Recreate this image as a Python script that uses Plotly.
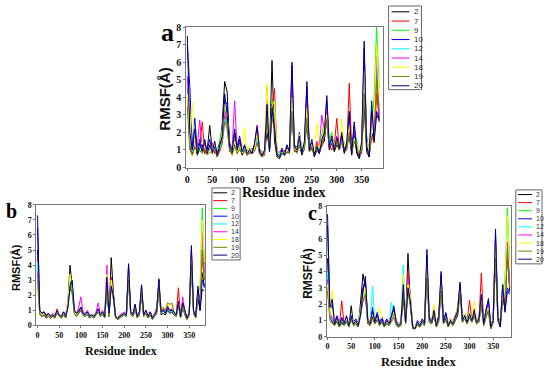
import plotly.graph_objects as go

W, H = 550, 373

residues = list(range(0, 390, 5))
series_names = ["2", "7", "9", "10", "12", "14", "18", "19", "20"]
series_colors = ["#000000", "#ff0000", "#00ff00", "#0000ff", "#00ffff",
                 "#ff00ff", "#ffff00", "#808000", "#000080"]
x_ticks = [0, 50, 100, 150, 200, 250, 300, 350]
y_ticks = [0, 1, 2, 3, 4, 5, 6, 7, 8]

# ---------------- panel a ----------------
A_2 = [4.5,1.2,0.8,1.5,0.7,1.1,1.3,0.8,1.0,2.4,0.9,1.2,0.6,1.0,2.5,4.9,4.3,1.0,0.8,1.3,0.9,1.2,0.7,1.0,0.9,0.8,1.1,1.0,1.6,0.8,0.6,0.9,2.0,1.0,6.1,1.5,0.6,0.5,0.8,0.7,1.0,0.8,3.0,1.0,0.9,1.3,0.7,1.2,2.5,0.9,1.2,0.6,1.0,0.8,1.3,1.5,2.8,1.0,1.4,0.9,1.3,1.0,1.6,0.8,1.2,1.8,0.7,1.9,0.8,0.5,1.0,3.5,0.9,0.6,2.0,1.6,5.8,2.6]
A_7 = [4.0,1.5,0.7,1.2,0.9,1.3,2.6,0.8,1.1,1.0,1.4,0.8,1.0,0.9,1.6,3.0,2.4,0.9,1.2,1.6,0.8,1.4,1.0,1.2,0.7,1.0,0.9,1.2,1.8,1.0,0.8,0.7,4.5,1.1,3.5,4.5,0.8,0.7,0.9,1.0,0.8,1.1,3.8,0.9,1.2,1.5,1.0,1.1,3.2,1.2,1.0,0.8,1.4,1.0,1.2,1.7,3.0,1.3,1.0,1.2,2.8,1.0,1.5,1.1,1.0,4.8,1.0,1.5,1.2,0.7,0.8,4.5,1.5,0.8,1.8,1.4,4.2,2.8]
A_9 = [3.8,1.3,1.0,1.8,1.2,0.9,1.0,1.3,0.8,1.2,1.0,1.1,0.9,1.6,2.2,3.5,2.6,1.3,1.0,1.8,1.2,1.0,1.1,0.9,1.0,1.1,0.8,1.0,1.9,1.0,0.9,0.8,3.0,1.2,3.8,2.8,1.0,0.8,1.1,0.9,1.2,1.0,3.5,1.3,1.0,1.6,1.2,1.0,3.0,1.1,1.4,0.9,1.1,1.3,1.9,2.6,2.5,1.5,2.0,1.2,1.5,1.3,1.8,1.4,1.2,2.5,1.1,2.0,1.6,0.8,1.2,4.8,1.8,0.9,2.4,4.0,8.0,4.5]
A_10 = [7.0,4.6,1.2,2.8,1.0,1.6,1.1,1.3,1.0,1.6,0.8,1.2,0.9,1.4,1.6,3.8,3.6,1.4,1.0,2.0,1.2,1.8,1.0,1.2,0.9,1.1,0.9,1.3,2.4,1.0,0.8,0.9,3.2,1.1,3.6,2.0,0.8,0.7,1.1,0.9,1.1,1.0,5.8,1.3,1.1,2.0,1.0,1.3,4.6,1.1,1.4,0.8,1.0,1.0,1.4,1.8,3.8,1.1,1.6,1.1,1.5,1.2,1.8,1.0,1.2,2.8,0.9,2.4,1.0,0.7,1.3,6.8,1.5,0.7,3.2,1.8,3.2,2.8]
A_12 = [5.0,1.6,0.9,1.4,1.1,1.3,1.0,1.2,0.9,1.1,1.0,1.3,0.8,1.1,1.4,2.8,2.2,1.1,0.9,1.5,1.0,1.3,0.9,1.1,0.8,1.0,1.0,1.2,1.6,0.9,0.8,0.8,3.4,1.0,3.0,2.4,0.9,0.7,1.0,0.8,1.0,0.9,4.5,1.1,1.0,1.4,0.9,1.1,3.6,1.0,1.3,0.9,1.2,1.1,1.5,2.2,3.2,1.3,1.5,1.1,1.6,1.2,1.5,1.1,1.3,2.2,1.0,1.7,1.3,0.7,1.0,5.0,1.4,0.8,2.2,2.0,6.0,3.5]
A_14 = [5.2,1.8,1.0,1.5,1.2,2.7,1.0,1.4,0.9,1.2,1.1,1.0,0.8,1.3,1.7,3.2,2.8,1.2,1.1,3.8,1.0,1.5,1.1,1.0,0.9,1.0,0.8,1.1,2.4,1.1,0.7,0.9,3.8,1.0,3.2,2.6,0.8,0.9,1.0,0.9,1.2,1.0,4.8,1.2,1.1,1.7,1.1,1.2,3.9,1.0,1.2,1.0,1.5,1.2,3.0,2.0,3.4,1.2,1.4,1.0,1.8,1.1,1.6,1.0,1.1,2.6,0.9,2.2,1.1,0.6,1.1,6.2,1.6,0.9,2.6,2.2,6.4,3.0]
A_18 = [4.2,1.4,3.7,1.3,1.0,1.2,1.5,1.1,0.8,1.3,0.9,1.4,1.0,1.2,2.0,3.6,3.0,1.1,1.0,1.5,0.9,1.2,1.0,2.3,0.8,1.2,0.9,1.0,2.0,0.9,0.8,1.0,4.8,1.0,3.5,3.8,0.9,0.8,0.9,1.1,0.9,1.2,4.0,1.0,1.1,1.9,1.0,1.2,3.4,1.1,1.3,0.9,2.5,1.1,1.6,2.4,3.0,1.4,1.7,1.3,1.6,1.1,2.8,1.2,1.3,2.4,1.0,1.6,1.4,0.8,1.1,5.5,1.5,1.0,2.0,3.0,7.0,4.0]
A_19 = [3.5,1.0,0.7,1.2,0.9,1.0,0.8,1.1,0.7,0.9,0.8,1.0,0.6,0.9,1.3,2.6,2.2,1.0,0.7,1.2,0.8,1.0,0.8,0.9,0.7,0.8,0.8,0.9,1.4,0.8,0.6,0.7,2.8,0.9,2.8,2.2,0.6,0.6,0.8,0.7,0.9,0.8,3.2,1.0,0.8,1.3,0.8,1.0,2.8,0.9,1.1,0.7,1.0,0.9,1.3,1.8,2.6,1.2,1.3,1.0,1.4,1.0,1.4,1.0,1.0,2.0,0.8,1.5,1.2,0.6,0.9,4.2,1.2,0.7,1.8,1.5,5.0,3.2]
A_20 = [7.5,2.0,1.0,2.2,0.8,1.4,0.9,1.6,0.8,1.3,0.9,1.5,0.7,1.2,1.8,4.2,3.0,1.2,0.9,2.2,1.0,1.6,0.9,1.3,0.8,1.0,0.8,1.4,2.3,0.9,0.7,1.0,3.6,0.9,3.4,2.2,0.7,0.6,1.0,0.7,1.3,0.9,6.0,1.2,1.0,1.8,0.8,1.5,4.9,1.0,1.6,0.7,1.2,0.8,1.6,2.0,4.1,1.2,1.8,1.0,1.7,1.1,2.0,0.9,1.4,3.2,0.8,2.6,0.9,0.6,1.5,7.2,1.2,0.6,3.8,1.5,3.0,2.7]

# ---------------- panel b ----------------
B_2 = [5.0,0.8,0.6,0.7,0.5,0.6,0.5,0.6,0.5,0.9,0.6,0.5,0.7,0.5,1.5,4.0,2.6,0.8,0.6,0.8,1.0,0.7,0.6,0.7,0.5,0.6,0.5,0.7,0.9,0.6,0.8,0.5,2.5,0.6,4.5,2.2,0.5,0.4,0.5,0.6,0.7,0.6,3.2,0.7,0.6,1.1,0.5,0.7,2.0,0.6,0.8,0.5,0.7,0.4,0.6,0.8,2.4,0.7,0.8,0.7,1.0,0.8,0.9,0.7,0.6,1.4,0.5,1.2,0.7,0.4,0.7,4.0,0.8,0.5,1.8,1.0,3.5,2.6]
B_7 = [4.5,0.9,0.7,0.8,0.6,0.7,0.6,0.7,0.6,1.1,0.7,0.6,0.8,0.6,1.3,2.8,2.4,0.9,0.7,0.9,1.1,0.8,0.7,0.8,0.6,0.7,0.6,0.8,1.0,0.7,0.8,0.6,2.8,0.7,3.2,2.0,0.6,0.5,0.6,0.6,0.8,0.7,3.5,0.8,0.7,1.2,0.6,0.8,2.2,0.7,0.9,0.6,0.8,0.5,0.7,0.9,2.6,0.8,1.0,0.8,1.2,0.9,1.0,0.8,0.7,2.5,0.6,1.3,0.8,0.5,0.8,4.2,0.9,0.6,2.0,1.2,4.5,3.0]
B_9 = [4.0,0.8,0.7,0.9,0.7,0.8,0.6,0.7,0.6,0.9,0.7,0.6,0.8,0.6,1.4,3.0,2.2,0.8,0.7,1.0,1.2,0.8,0.7,0.8,0.6,0.7,0.7,0.8,1.0,0.7,0.8,0.6,2.6,0.7,3.0,1.8,0.6,0.5,0.6,0.7,0.8,0.7,3.4,0.8,0.7,1.2,0.6,0.8,2.3,0.7,0.9,0.6,0.8,0.5,0.7,0.9,2.7,0.8,1.1,0.8,1.3,1.0,1.1,0.8,0.7,1.5,0.6,1.4,0.8,0.5,0.8,4.6,1.0,0.6,2.2,2.5,7.8,4.0]
B_10 = [6.5,1.0,0.8,0.9,0.6,0.8,0.6,0.7,0.6,1.0,0.7,0.6,0.9,0.6,1.3,2.8,2.8,0.9,0.8,1.0,1.2,0.8,0.7,0.9,0.6,0.7,0.6,0.8,1.1,0.7,0.9,0.6,3.0,0.8,2.8,2.0,0.6,0.5,0.6,0.7,0.8,0.7,4.0,0.9,0.7,1.4,0.6,0.9,2.6,0.7,1.0,0.6,0.9,0.5,0.7,1.0,3.0,0.9,1.0,0.8,1.2,1.0,1.0,0.9,0.7,1.6,0.6,1.5,0.9,0.5,0.8,5.0,1.0,0.6,2.4,1.2,3.0,2.5]
B_12 = [4.2,0.8,0.7,0.8,0.6,0.7,0.6,0.7,0.6,0.9,0.6,0.6,0.8,0.6,1.2,2.4,2.0,0.8,0.7,0.9,1.1,0.7,0.6,0.8,0.6,0.6,0.6,0.7,1.0,0.6,0.8,0.6,2.8,0.7,2.6,1.8,0.6,0.5,0.6,0.6,0.7,0.6,3.0,0.8,0.6,1.2,0.6,0.8,2.2,0.6,0.9,0.6,0.8,0.5,0.6,0.9,2.4,0.8,1.0,0.8,1.2,0.9,1.0,0.8,0.6,1.4,0.6,1.3,0.8,0.5,0.7,4.4,0.9,0.6,2.0,1.5,5.5,3.2]
B_14 = [3.5,1.0,0.8,0.9,0.7,0.8,0.6,0.8,0.7,1.0,0.7,0.6,0.9,0.7,1.6,2.4,2.2,1.0,0.8,1.2,1.9,0.9,0.8,1.0,0.7,0.7,0.6,0.9,1.5,0.7,1.0,0.6,4.0,0.8,2.8,2.0,0.6,0.5,0.7,0.8,0.9,0.8,3.6,0.9,0.8,1.3,0.7,0.9,2.4,0.7,1.0,0.6,0.9,0.6,0.8,1.2,2.8,0.9,1.1,0.9,1.3,1.0,1.1,0.9,0.7,1.5,0.7,1.9,0.9,0.5,0.9,5.0,1.0,0.7,2.2,1.8,6.2,3.5]
B_18 = [2.5,0.9,0.7,0.8,0.6,0.7,0.6,0.7,0.6,1.0,0.7,0.6,0.8,0.6,1.6,3.4,2.6,0.9,0.7,0.9,1.1,0.8,0.7,0.8,0.6,0.7,0.6,0.8,1.0,0.7,0.8,0.6,3.4,0.7,3.0,1.9,0.6,0.5,0.6,0.7,0.8,0.7,3.4,0.8,0.7,1.2,0.6,0.8,2.4,0.7,0.9,0.6,0.8,0.6,0.7,1.0,2.8,0.9,1.2,1.0,1.5,1.3,1.4,0.9,0.7,1.6,0.6,1.4,0.9,0.5,0.8,4.5,1.0,0.6,2.0,2.2,7.0,4.2]
B_19 = [3.0,0.7,0.6,0.7,0.5,0.6,0.5,0.6,0.5,0.8,0.6,0.5,0.7,0.5,1.2,2.6,2.2,0.8,0.6,0.8,1.0,0.7,0.6,0.7,0.5,0.6,0.5,0.7,0.9,0.6,0.7,0.5,2.4,0.6,2.6,1.7,0.5,0.4,0.5,0.6,0.7,0.6,3.0,0.7,0.6,1.1,0.5,0.7,2.1,0.6,0.8,0.5,0.7,0.5,0.6,0.9,2.5,0.8,1.2,1.0,1.5,1.4,1.5,0.9,0.6,1.4,0.5,1.3,0.8,0.4,0.7,4.0,0.9,0.5,1.8,1.6,5.0,3.0]
B_20 = [7.3,1.0,0.8,0.9,0.6,0.8,0.6,0.7,0.6,1.0,0.7,0.6,0.9,0.6,1.2,2.5,3.0,1.0,0.8,0.9,1.2,0.8,0.7,0.9,0.6,0.7,0.6,0.8,1.1,0.7,0.9,0.6,3.2,0.8,2.6,2.0,0.6,0.5,0.6,0.7,0.8,0.7,4.1,0.9,0.7,1.4,0.6,0.9,2.7,0.7,1.0,0.6,0.9,0.5,0.7,1.0,3.1,0.9,1.0,0.8,1.2,1.0,1.0,0.9,0.7,1.6,0.6,1.5,0.9,0.5,0.8,5.3,1.0,0.6,2.6,1.0,2.4,2.3]

# ---------------- panel c ----------------
C_2 = [4.8,1.2,0.9,0.7,1.0,0.6,0.9,0.7,1.0,0.6,1.9,0.7,0.8,0.6,2.2,3.85,3.0,0.8,0.7,1.2,0.8,1.1,0.7,0.9,0.6,0.8,0.7,1.0,1.4,0.8,0.6,0.7,2.4,0.8,5.1,2.0,0.5,0.5,0.8,0.6,0.9,0.7,4.0,0.9,0.8,1.3,0.6,1.0,3.0,0.8,1.1,0.6,0.9,0.7,1.0,1.3,2.8,0.9,1.1,0.8,1.2,0.9,1.3,0.8,0.9,2.0,0.7,1.3,1.6,0.5,0.9,4.8,1.0,0.6,2.4,1.8,5.0,2.8]
C_7 = [3.0,1.3,1.0,0.8,1.1,0.7,2.2,0.8,1.1,0.7,1.2,0.8,0.9,0.7,1.6,3.0,3.2,0.9,0.8,1.3,0.9,1.2,0.8,1.0,0.7,0.9,0.8,1.1,1.5,0.9,0.7,0.8,3.0,0.9,4.0,2.4,0.6,0.6,0.9,0.7,1.0,0.8,4.2,1.0,0.9,1.5,0.7,1.1,3.2,0.9,1.2,0.7,1.0,0.8,1.1,1.5,3.0,1.0,1.3,0.9,2.25,1.0,1.4,0.9,1.0,3.9,0.8,1.4,1.8,0.6,1.0,5.2,1.1,0.7,2.6,2.0,5.5,3.0]
C_9 = [3.8,1.4,1.1,0.9,1.0,0.8,1.0,0.9,1.0,0.8,1.1,0.9,1.0,0.8,1.8,2.4,2.8,1.0,0.9,1.4,1.0,1.2,0.9,1.0,0.8,0.9,0.9,1.1,1.6,0.9,0.8,0.8,3.4,1.0,3.4,2.6,0.7,0.6,0.9,0.8,1.0,0.9,4.5,1.1,1.0,1.6,0.8,1.2,3.4,1.0,1.3,0.8,1.1,0.9,1.2,1.9,3.0,1.1,1.4,1.0,1.5,1.1,1.6,1.0,1.1,2.4,0.9,1.5,1.9,0.7,1.1,5.5,1.3,0.8,2.8,3.5,7.9,4.5]
C_10 = [6.8,1.6,2.0,0.9,1.3,0.8,1.2,0.9,1.2,0.8,1.3,0.9,1.1,0.8,1.5,3.0,3.4,1.1,0.9,1.8,1.0,1.5,0.9,1.2,0.8,1.1,0.9,1.3,1.9,1.0,0.8,0.9,3.0,1.0,2.8,2.0,0.7,0.6,1.0,0.8,1.1,0.9,5.0,1.2,1.0,1.8,0.8,1.3,3.8,1.0,1.5,0.8,1.1,0.9,1.3,1.7,3.2,1.1,1.4,1.0,1.5,1.1,1.7,1.0,1.2,2.4,0.9,1.7,2.2,0.7,1.1,6.2,1.3,0.7,3.0,1.6,3.0,2.7]
C_12 = [4.0,1.2,1.0,0.8,1.1,0.7,1.0,0.8,1.1,0.7,1.1,0.8,0.9,0.7,1.3,2.6,2.6,1.0,0.8,3.1,0.9,1.2,0.8,1.0,0.7,0.9,0.8,2.1,1.4,0.8,0.7,0.8,4.4,0.9,3.0,2.2,0.6,0.6,0.8,0.7,0.9,0.8,4.6,1.0,0.9,1.4,0.7,1.1,3.5,0.9,1.2,0.7,1.0,0.8,1.1,1.8,2.9,1.0,1.2,0.9,1.3,1.0,1.5,0.9,1.0,2.2,0.8,1.4,1.8,0.6,1.0,5.8,1.2,0.7,2.6,2.5,7.0,3.8]
C_14 = [3.5,1.5,1.1,0.9,1.2,0.8,1.1,0.9,1.2,0.8,1.2,0.9,1.0,0.8,1.5,2.2,2.4,1.1,0.9,1.5,1.0,1.3,0.9,1.1,0.8,1.0,0.9,1.2,1.6,0.9,0.8,0.8,3.2,1.0,3.6,2.4,0.7,0.6,0.9,0.8,1.0,0.9,4.2,1.1,1.0,1.6,0.8,1.2,3.6,1.0,1.3,0.8,1.1,0.9,1.3,1.7,3.0,1.1,1.3,1.0,1.4,1.1,1.6,1.0,1.1,2.5,0.9,1.6,2.0,0.7,1.1,6.0,1.3,0.8,2.6,2.2,5.8,3.2]
C_18 = [3.2,1.3,2.9,0.9,1.1,0.8,1.0,0.9,1.1,0.8,1.2,0.9,1.0,0.8,1.6,2.5,3.0,1.0,0.9,1.4,0.9,1.2,1.8,1.0,0.8,0.9,0.9,1.1,1.5,0.9,0.8,0.8,3.8,1.0,3.2,2.5,0.7,0.6,0.9,0.8,1.0,0.9,4.4,1.0,1.0,2.0,0.8,1.1,3.2,1.0,1.3,0.8,1.1,0.9,1.2,1.8,2.8,1.1,1.4,1.0,1.5,1.1,2.2,1.0,1.1,2.3,0.9,1.5,1.8,0.7,1.1,5.6,1.2,0.8,2.6,3.0,7.4,4.2]
C_19 = [2.8,1.0,0.8,0.7,0.9,0.6,0.8,0.7,0.9,0.6,1.0,0.7,0.8,0.6,1.3,2.2,2.6,0.8,0.7,1.1,0.8,1.0,0.7,0.9,0.6,0.8,0.7,0.9,1.2,0.7,0.6,0.7,2.6,0.8,2.8,1.9,0.5,0.5,0.7,0.6,0.8,0.7,3.6,0.9,0.8,1.3,0.6,0.9,2.8,0.8,1.0,0.6,0.9,0.7,1.0,1.5,2.6,0.9,1.1,0.8,1.2,0.9,1.3,0.8,0.9,2.0,0.7,1.2,1.6,0.5,0.9,4.8,1.0,0.6,2.2,1.8,5.2,3.0]
C_20 = [7.5,1.8,2.3,0.8,1.2,0.7,1.1,0.8,1.3,0.7,1.2,0.8,1.0,0.7,1.4,2.8,3.7,1.0,0.8,1.6,0.9,1.4,0.8,1.1,0.7,1.0,0.8,1.2,1.8,0.9,0.7,0.8,3.2,0.9,3.0,2.2,0.6,0.5,0.9,0.7,1.0,0.8,5.35,1.1,0.9,1.6,0.7,1.2,4.0,0.9,1.4,0.7,1.0,0.8,1.2,1.6,3.35,1.0,1.3,0.9,1.4,1.0,1.6,0.9,1.1,2.6,0.8,1.6,2.35,0.6,1.0,6.6,1.2,0.6,3.2,1.5,2.8,2.6]

panel_a = [A_2, A_7, A_9, A_10, A_12, A_14, A_18, A_19, A_20]
panel_b = [B_2, B_7, B_9, B_10, B_12, B_14, B_18, B_19, B_20]
panel_c = [C_2, C_7, C_9, C_10, C_12, C_14, C_18, C_19, C_20]


def fx(px):
    return px / W


def fy(py):
    return 1 - py / H


panels = [
    dict(data=panel_a, label="a", frame=(185, 382, 22.7, 167), xr=(-2, 392),
         tickfont=10, titlefont=14, yfont=15, yx=163, lab=(166, 28, 26),
         leg=dict(box=(388, 421, 1, 87), y0=7.0, dy=9.5, l0=391, l1=409, tx=411, fs=8)),
    dict(data=panel_b, label="b", frame=(34.5, 204, 205.3, 329.3), xr=(-2.7, 387),
         tickfont=8, titlefont=12, yfont=11, yx=14, lab=(10, 212, 20),
         leg=dict(box=(210.7, 239, 188, 262), y0=193.0, dy=8.0, l0=212, l1=226, tx=228, fs=7)),
    dict(data=panel_c, label="c", frame=(326, 511, 206.6, 341), xr=(-1.5, 388),
         tickfont=8, titlefont=12.5, yfont=12, yx=306.5, lab=(312, 214, 20),
         leg=dict(box=(515.7, 542, 190, 266), y0=194.8, dy=8.3, l0=518, l1=532, tx=533.5, fs=7)),
]

fig = go.Figure()
shapes = []
annotations = []
layout_axes = {}

for p_i, p in enumerate(panels):
    n = "" if p_i == 0 else str(p_i + 1)
    xa, ya = "x" + n, "y" + n
    for name, color, vals in zip(series_names, series_colors, p["data"]):
        fig.add_trace(go.Scatter(x=residues[:len(vals)], y=vals, mode="lines",
                                 line=dict(color=color, width=1), name=name,
                                 showlegend=False, xaxis=xa, yaxis=ya,
                                 hoverinfo="skip"))
    x0, x1, y0, y1 = p["frame"]
    tf = dict(family="Liberation Serif", size=p["tickfont"], color="#111", weight="bold")
    layout_axes["xaxis" + n] = dict(domain=[fx(x0), fx(x1)], range=list(p["xr"]),
                                    anchor=ya, tickvals=x_ticks, ticks="outside",
                                    ticklen=2, tickcolor="#777", showline=True,
                                    linecolor="#777", linewidth=1, mirror=True,
                                    showgrid=False, zeroline=False, tickfont=tf)
    layout_axes["yaxis" + n] = dict(domain=[fy(y1), fy(y0)], range=[0, 8],
                                    anchor=xa, tickvals=y_ticks, ticks="outside",
                                    ticklen=2, tickcolor="#777", showline=True,
                                    linecolor="#777", linewidth=1, mirror=True,
                                    showgrid=False, zeroline=False, tickfont=tf)
    annotations.append(dict(text="Residue index", xref="paper", yref="paper",
                            x=fx((x0 + x1) / 2), y=fy(y1 + 26), showarrow=False,
                            font=dict(family="Liberation Serif", size=p["titlefont"],
                                      color="#111", weight="bold"),
                            xanchor="center", yanchor="middle"))
    annotations.append(dict(text="RMSF(Å)", xref="paper", yref="paper",
                            x=fx(p["yx"]), y=fy((y0 + y1) / 2 + 2), showarrow=False,
                            textangle=-90,
                            font=dict(family="Liberation Sans", size=p["yfont"],
                                      color="#111", weight="bold"),
                            xanchor="center", yanchor="middle"))
    lx, ly, ls = p["lab"]
    annotations.append(dict(text=p["label"], xref="paper", yref="paper",
                            x=fx(lx), y=fy(ly), showarrow=False,
                            font=dict(family="Liberation Serif", size=ls,
                                      color="#000", weight="bold"),
                            xanchor="center", yanchor="middle"))
    lg = p["leg"]
    bx0, bx1, by0, by1 = lg["box"]
    shapes.append(dict(type="rect", xref="paper", yref="paper",
                       x0=fx(bx0), x1=fx(bx1), y0=fy(by1), y1=fy(by0),
                       line=dict(color="#666", width=1), fillcolor="white"))
    for k, (name, color) in enumerate(zip(series_names, series_colors)):
        yy = lg["y0"] + k * lg["dy"]
        shapes.append(dict(type="line", xref="paper", yref="paper",
                           x0=fx(lg["l0"]), x1=fx(lg["l1"]), y0=fy(yy), y1=fy(yy),
                           line=dict(color=color, width=1)))
        annotations.append(dict(text=name, xref="paper", yref="paper",
                                x=fx(lg["tx"]), y=fy(yy), showarrow=False,
                                xanchor="left", yanchor="middle",
                                font=dict(family="Liberation Sans", size=lg["fs"],
                                          color="#333")))

fig.update_layout(width=W, height=H, margin=dict(l=0, r=0, t=0, b=0),
                  paper_bgcolor="white", plot_bgcolor="white",
                  showlegend=False, shapes=shapes, annotations=annotations,
                  **layout_axes)

fig.write_html("out.html", config={"displayModeBar": False, "staticPlot": True},
               post_script="document.body.style.margin='0';document.body.style.padding='0';")
